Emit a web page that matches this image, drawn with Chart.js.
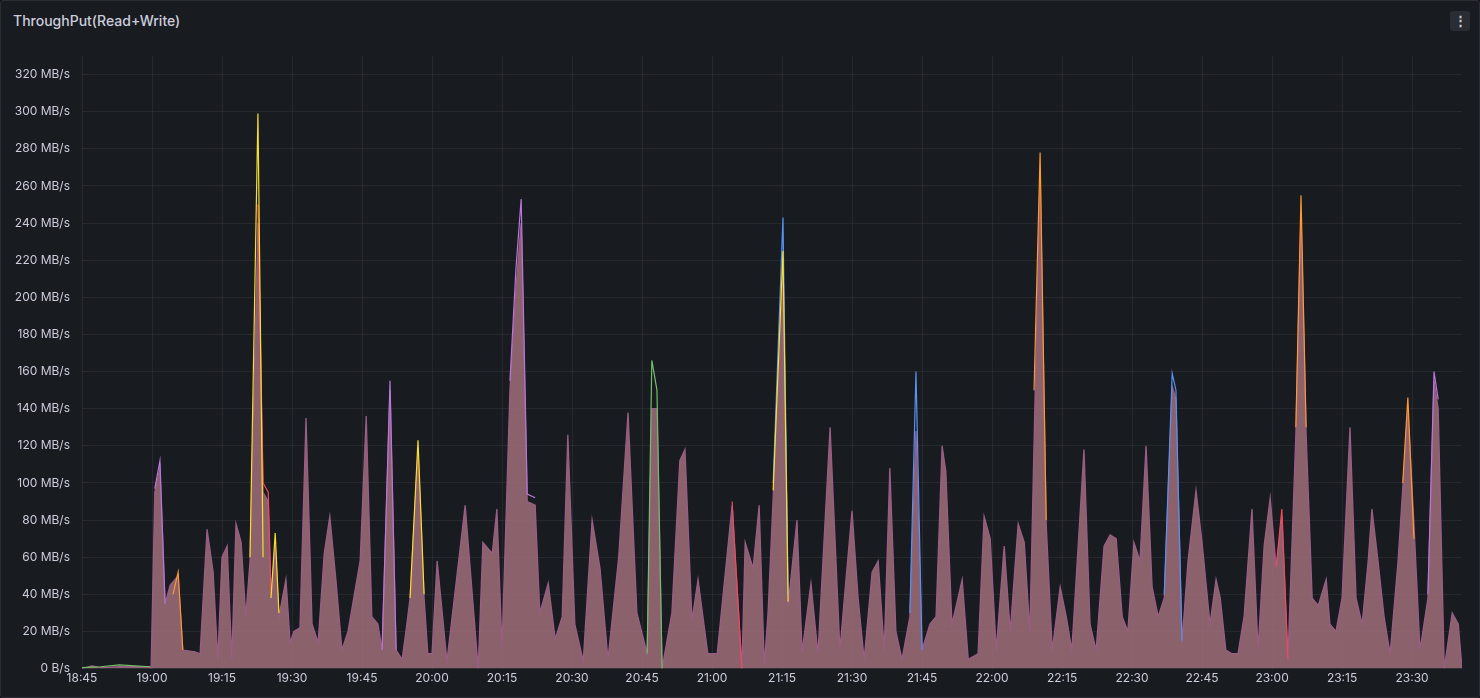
<!DOCTYPE html>
<html><head><meta charset="utf-8">
<script src="https://cdn.jsdelivr.net/npm/chart.js@4"></script>
<style>
html,body{margin:0;padding:0;background:#111217;width:1480px;height:698px;overflow:hidden;font-family:Inter,sans-serif}
#panel{position:absolute;left:0;top:0;width:1478px;height:696px;background:#181b1f;border:1px solid #2a2d33;border-radius:3px}
#title{position:absolute;left:13px;top:12px;color:#ccccdc;font-size:14px;font-weight:500}
#menu{position:absolute;left:1450px;top:11px;width:20px;height:20px;background:#2a2d33;border-radius:3px;color:#ccccdc;font-size:13px;text-align:center;line-height:19px;font-weight:700}
#wrap{position:absolute;left:0;top:0;width:1480px;height:698px}
</style></head><body>
<div id="panel"></div>
<div id="title">ThroughPut(Read+Write)</div>
<div id="menu">&#8942;</div>
<div id="wrap"><canvas id="c"></canvas></div>
<script>
// minutes since 18:45
const startLabel = [18,45];
const mainT = [0,2.1,4,8,14.6,14.8,15.6,16.7,17.8,18.9,20.6,21.6,24.2,25.3,26.8,28.1,29.1,30.0,31.1,32.1,33.0,34.1,35.1,36.0,37.7,38.8,39.9,40.5,41.4,42.2,43.7,44.6,45.4,46.7,48.0,49.3,50.6,51.9,53.1,54.4,55.7,57.0,59.6,60.9,62.1,63.4,64.3,66.0,67.3,68.6,69.4,70.3,72.0,73.3,74.1,75.0,76.1,78.2,82.1,84.9,85.9,87.9,88.9,90.0,91.7,93.0,94.1,95.4,97.1,98.1,99.9,101.4,102.9,104.1,105.6,107.4,109.3,111.0,112.7,115,117.0,118.9,121.1,122.1,123.2,124.3,126.4,128.1,129.2,130.7,132.0,134.1,136.1,139.3,141.4,142.1,143.8,145.1,146.2,147.0,148.1,150.2,151.3,153.2,154.3,156.2,157.7,160.3,162.4,163.7,165.0,166.3,167.6,169.3,170.6,171.9,173.1,174.4,175.7,177.4,178.7,180.0,181.7,183.0,184.3,185.1,186.4,187.7,188.6,189.9,192.0,193.3,194.6,195.9,197.6,198.9,200.6,201.9,203.1,205.3,206.6,207.9,209.6,210.9,212.1,214.7,216.0,217.3,219.0,220.3,221.6,222.9,224.1,225.4,226.7,228.0,229.3,230.6,231.9,233.6,234.4,235.7,237.0,238.7,240.0,241.7,243.0,243.9,245.1,246.4,247.7,249.0,250.7,252.0,253.3,254.6,255.9,257.1,258.4,260.1,261.2,262.3,263.6,264.9,266.6,267.4,268.7,270.0,271.7,273.0,274.3,275.6,276.4,277.7,279.0,280.3,282.0,284.1,285.4,286.7,288.4,289.7,290.6,291.9,293.6,294.9,295.7];
const mainV = [0,1.5,0.5,1,1,0,95,108,35,45,50,10,9,8,75,52,5,60,66,5,78,68,28,58,240,95,90,38,66,28,48,14,20,22,135,24,14,62,82,48,10,20,58,136,28,24,10,150,10,5,20,38,118,38,8,8,58,4,88,0,68,62,86,11,150,205,240,90,88,30,46,16,28,126,24,4,80,54,5,60,138,30,8,140,140,0,30,112,118,26,48,8,8,88,0,68,54,88,2,30,92,220,34,80,9,46,8,130,10,48,85,38,5,52,58,10,108,20,5,28,128,10,24,28,120,106,24,38,48,5,8,82,70,10,66,20,78,68,20,268,78,10,44,28,10,118,24,10,66,72,70,28,20,68,58,120,44,28,38,152,145,14,58,96,68,24,48,38,10,8,8,28,86,10,66,92,54,82,5,126,245,126,38,34,48,24,20,38,130,38,24,58,86,58,28,8,58,140,78,10,38,155,140,0,30,24,0];
// overlay spikes (null breaks)
const yellowT = [36.0,37.7,38.8,null,40.5,41.4,42.2,null,148.1,150.2,151.3,null,70.3,72.0,73.3];
const yellowV = [60,299,60,null,38,73,30,null,96,225,36,null,38,123,40];
const orangeT = [204.0,205.3,206.6,null,260.1,261.2,262.3,null,19.5,20.6,21.6,null,283,284.1,285.4];
const orangeV = [150,278,80,null,130,255,130,null,40,52,10,null,100,146,70];
const purpleT = [15.6,16.7,17.8,null,91.7,93.0,94.1,95.4,97.1,null,64.3,66.0,67.3,null,288.4,289.7,290.6];
const purpleV = [97,112,35,null,155,216,253,94,92,null,10,155,10,null,40,160,145];
const blueT = [148.1,150.2,151.3,null,177.4,178.7,180.0,null,231.9,233.6,234.4,235.7];
const blueV = [100,243,40,null,30,160,10,null,40,159,150,15];
const greenT = [121.1,122.1,123.2,124.3,null,0,4,8,14.6];
const greenV = [8,166,150,0,null,0.5,1,2,1];
const redT = [37.7,38.8,39.9,40.5,null,139.3,141.4,null,255.9,257.1,258.4];
const redV = [250,100,95,40,null,90,0,null,55,86,5];

function lineDs(t,v,c){return {data:t.map((x,i)=>x===null?{x:NaN,y:null}:{x:x,y:v[i]}),borderColor:c,borderWidth:1.2,pointRadius:0,fill:false,tension:0,spanGaps:false};}

const ds = [
 lineDs(yellowT,yellowV,'#fade2a'),
 lineDs(orangeT,orangeV,'#ff9830'),
 lineDs(purpleT,purpleV,'#b877d9'),
 lineDs(blueT,blueV,'#5794f2'),
 lineDs(greenT,greenV,'#73bf69'),
 lineDs(redT,redV,'#f2495c'),
 {data:mainT.map((x,i)=>({x:x,y:mainV[i]})),borderColor:'#9a5e86',borderWidth:1.3,backgroundColor:'rgba(160,110,122,0.85)',fill:'origin',pointRadius:0,tension:0}
];

new Chart(document.getElementById('c'),{
 type:'line',
 data:{datasets:ds},
 options:{
  responsive:true,maintainAspectRatio:false,animation:false,
  layout:{padding:{top:56,right:18,bottom:9,left:0}},
  plugins:{legend:{display:false},tooltip:{enabled:false}},
  scales:{
   x:{type:'linear',min:0,max:295.7,
      afterBuildTicks:s=>{s.ticks=[];for(let m=0;m<=285;m+=15)s.ticks.push({value:m});},
      ticks:{color:'#ccccdc',font:{family:'Inter',size:12},maxRotation:0,autoSkip:false,
        callback:v=>{let tot=startLabel[0]*60+startLabel[1]+v;let h=Math.floor(tot/60)%24,mm=tot%60;return h+':'+String(mm).padStart(2,'0');}},
      grid:{color:'rgba(204,204,220,0.08)',drawTicks:false},border:{display:false}},
   y:{min:0,max:330,
      afterBuildTicks:s=>{s.ticks=[];for(let v=0;v<=320;v+=20)s.ticks.push({value:v});},
      afterFit:s=>{s.width=82;},
      ticks:{color:'#ccccdc',font:{family:'Inter',size:12},padding:12,callback:v=>v===0?'0 B/s':v+' MB/s'},
      grid:{color:'rgba(204,204,220,0.08)',drawTicks:false},border:{display:false}}
  }
 }
});
</script></body></html>
